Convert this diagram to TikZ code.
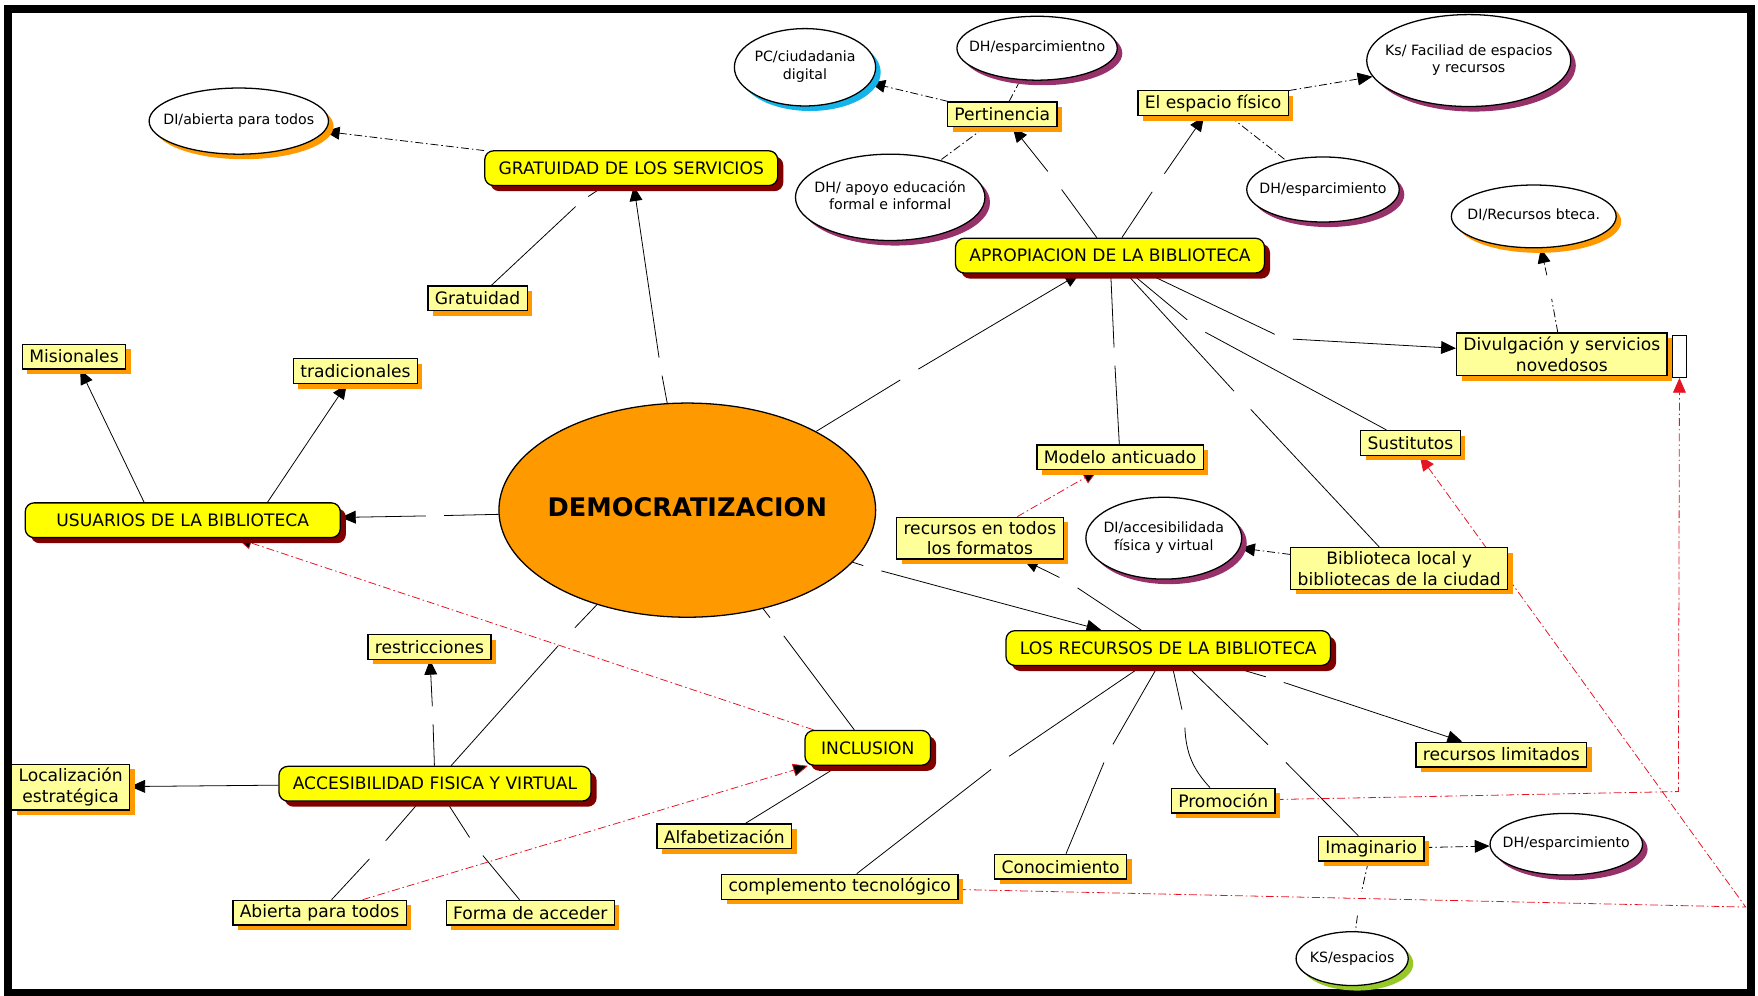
\documentclass[tikz,border=0pt]{standalone}
\usepackage{fontspec}
\setmainfont{DejaVu Sans}
\usetikzlibrary{shapes.geometric, arrows.meta, shadows, backgrounds}
\definecolor{conyel}{RGB}{255,255,0}
\definecolor{subyel}{RGB}{255,255,153}
\definecolor{shdred}{RGB}{128,0,0}
\definecolor{shdorg}{RGB}{255,153,0}
\definecolor{shdpur}{RGB}{150,50,105}
\definecolor{shdcya}{RGB}{20,180,235}
\definecolor{shdgrn}{RGB}{150,200,40}
\definecolor{lnkred}{RGB}{230,20,35}
\newcommand{\ovl}[1]{\makebox[0pt]{\begin{tabular}{@{}c@{}}#1\end{tabular}}}

\begin{document}
\begin{tikzpicture}[x=0.2mm, y=-0.2mm, line width=0.65pt,
    >={Triangle[length=7.5pt,width=6.5pt]},
    mainbox/.style={rectangle, rounded corners=4.5pt, draw=black, fill=conyel, inner xsep=7pt, inner ysep=2pt, minimum height=6.2mm, font=\fontsize{8.7}{10.5}\selectfont, drop shadow={shadow xshift=1mm, shadow yshift=-1mm, fill=shdred, opacity=1}},
    subbox/.style={rectangle, draw=black, fill=subyel, inner xsep=3.5pt, inner ysep=2pt, minimum height=4.4mm, align=center, font=\fontsize{8.7}{10.5}\selectfont, drop shadow={shadow xshift=0.9mm, shadow yshift=-0.9mm, fill=shdorg, opacity=1}},
    bubble/.style={ellipse, draw=black, fill=white, inner sep=0pt, font=\fontsize{7.2}{9}\selectfont, drop shadow={shadow xshift=0.9mm, shadow yshift=-0.9mm, fill=#1, opacity=1}},
    lk/.style={inner sep=0pt, minimum size=3mm},
    dlink/.style={dash pattern=on 4pt off 1.5pt on 0.8pt off 1.5pt},
    rlink/.style={draw=lnkred, dash pattern=on 4pt off 1.5pt on 0.8pt off 1.5pt}]
    \useasboundingbox (0,0) rectangle (1568,888);
    \draw[line width=1.4mm] (7,8) rectangle (1562,886);

    \node (DEM) [ellipse, draw=black, fill=shdorg, inner sep=0pt, minimum width=67.2mm, minimum height=38.2mm, font=\fontsize{13}{15}\selectfont\bfseries] at (613, 455) {\ovl{DEMOCRATIZACION}};
    \node (GRAT) [mainbox] at (563, 150) {GRATUIDAD DE LOS SERVICIOS};
    \node (APROP) [mainbox] at (990, 228) {APROPIACION DE LA BIBLIOTECA};
    \node (USU) [mainbox, minimum width=56.2mm] at (163, 464) {USUARIOS DE LA BIBLIOTECA};
    \node (REC) [mainbox] at (1042, 578) {LOS RECURSOS DE LA BIBLIOTECA};
    \node (INC) [mainbox, minimum width=22.4mm] at (774, 667) {INCLUSION};
    \node (ACC) [mainbox] at (388, 699) {ACCESIBILIDAD FISICA Y VIRTUAL};

    \node (Grat) [subbox] at (426, 266) {Gratuidad};
    \node (Mis) [subbox] at (66, 318) {Misionales};
    \node (Trad) [subbox] at (317, 331) {tradicionales};
    \node (Restr) [subbox] at (383, 577) {restricciones};
    \node (Loc) [subbox] at (63, 702) {Localización\\estratégica};
    \node (Abi) [subbox] at (285, 814) {Abierta para todos};
    \node (Forma) [subbox] at (473, 814) {Forma de acceder};
    \node (Alfa) [subbox] at (646, 746) {Alfabetización};
    \node (Compl) [subbox] at (749, 791) {complemento tecnológico};
    \node (Conoc) [subbox] at (946, 773) {Conocimiento};
    \node (Promo) [subbox] at (1091, 714) {Promoción};
    \node (Imag) [subbox] at (1223, 757) {Imaginario};
    \node (Limit) [subbox] at (1339, 673) {recursos limitados};
    \node (Sust) [subbox] at (1258, 395) {Sustitutos};
    \node (BibL) [subbox] at (1248, 507) {Biblioteca local y\\bibliotecas de la ciudad};
    \node (Form) [subbox] at (874, 480) {recursos en todos\\los formatos};
    \node (Model) [subbox] at (999, 408) {Modelo anticuado};
    \node (Pert) [subbox] at (894, 102) {Pertinencia};
    \node (Esp) [subbox] at (1082, 92) {El espacio físico};
    \node (Divul) [subbox] at (1393, 316) {Divulgación y servicios\\novedosos};
    \node (Nov) [draw=black, fill=white, inner sep=0pt, minimum width=2.4mm, minimum height=7.4mm] at (1498, 318) {};

    \node (DIab) [bubble=shdorg, minimum width=32mm, minimum height=11.8mm] at (213, 108) {\ovl{DI/abierta para todos}};
    \node (PCc) [bubble=shdcya, minimum width=25.2mm, minimum height=13.8mm] at (718, 60) {\ovl{PC/ciudadania\\digital}};
    \node (DHe1) [bubble=shdpur, minimum width=28.6mm, minimum height=11.4mm] at (925, 43) {\ovl{DH/esparcimientno}};
    \node (DHap) [bubble=shdpur, minimum width=33.8mm, minimum height=15.4mm] at (794, 176) {\ovl{DH/ apoyo educación\\formal e informal}};
    \node (Ksf) [bubble=shdpur, minimum width=36.4mm, minimum height=16.4mm] at (1310, 54) {\ovl{Ks/ Faciliad de espacios\\y recursos}};
    \node (DHe2) [bubble=shdpur, minimum width=27.2mm, minimum height=11.6mm] at (1180, 169) {\ovl{DH/esparcimiento}};
    \node (DIrec) [bubble=shdorg, minimum width=29.4mm, minimum height=11.2mm] at (1368, 193) {\ovl{DI/Recursos bteca.}};
    \node (DIacc) [bubble=shdpur, minimum width=27.8mm, minimum height=14.6mm] at (1038, 480) {\ovl{DI/accesibilidada\\física y virtual}};
    \node (DHe3) [bubble=shdpur, minimum width=27.2mm, minimum height=11mm] at (1397, 753) {\ovl{DH/esparcimiento}};
    \node (KSe) [bubble=shdgrn, minimum width=20mm, minimum height=9.6mm] at (1206, 855) {\ovl{KS/espacios}};

    \node (l1) [lk] at (589, 327) {};
    \node (l2) [lk] at (811, 334) {};
    \node (l3) [lk] at (388, 460) {};
    \node (l4) [lk] at (778, 507) {};
    \node (l5) [lk] at (693, 559) {};
    \node (l6) [lk] at (505, 568) {};
    \node (l7) [lk, minimum size=2mm] at (519, 179) {};
    \node (l8) [lk] at (386, 638) {};
    \node (l9) [lk] at (337, 758) {};
    \node (l10) [lk] at (424, 755) {};
    \node (l12) [lk] at (953, 519) {};
    \node (l13) [lk] at (1137, 606) {};
    \node (l14) [lk] at (1056, 641) {};
    \node (l15) [lk] at (1139, 672) {};
    \node (l16) [lk] at (988, 672) {};
    \node (l17) [lk] at (892, 680) {};
    \node (l18) [lk] at (941, 161) {};
    \node (l19) [lk] at (1033, 163) {};
    \node (l20) [lk] at (1145, 302) {};
    \node (l21) [lk] at (994, 318) {};
    \node (l22) [lk] at (1067, 292) {};
    \node (l23) [lk] at (1108, 357) {};
    \node (l24) [lk, minimum size=4mm] at (1382, 256) {};
    \node (l25) [lk, minimum size=4mm] at (1212, 806) {};
    \coordinate (c1) at (1497, 706);
    \coordinate (c2) at (1557, 809);

    \begin{pgfonlayer}{background}
    \draw (DEM) -- (l1);
    \draw (l1) edge[->] (GRAT);
    \draw (DEM) -- (l2);
    \draw (l2) edge[->] (APROP);
    \draw (DEM) -- (l3);
    \draw (l3) edge[->] (USU);
    \draw (DEM) -- (l4);
    \draw (l4) edge[->] (REC);
    \draw (DEM) -- (l5) (l5) -- (INC);
    \draw (DEM) -- (l6) (l6) -- (ACC);

    \draw (Grat) -- (l7) (l7) -- (GRAT);
    \draw (USU.155) edge[->] (Mis);
    \draw (USU.12) edge[->] (Trad);
    \draw (ACC) -- (l8);
    \draw (l8) edge[->] (Restr);
    \draw (ACC) edge[->] (Loc);
    \draw (ACC) -- (l9) (l9) -- (Abi);
    \draw (ACC) -- (l10) (l10) -- (Forma);
    \draw[shorten >=1.2mm] (Alfa) -- (INC);

    \draw (REC) -- (l12);
    \draw (l12) edge[->] (Form);
    \draw (REC) -- (l13);
    \draw (l13) edge[->] (Limit);
    \draw (REC) -- (l14) (l14) to[bend right=20] (Promo);
    \draw (REC) -- (l15) (l15) -- (Imag);
    \draw (REC) -- (l16) (l16) -- (Conoc);
    \draw (REC) -- (l17) (l17) -- (Compl);

    \draw (APROP) -- (l18);
    \draw (l18) edge[->] (Pert);
    \draw (APROP) -- (l19);
    \draw (l19) edge[->] (Esp);
    \draw (APROP) -- (l20);
    \draw (l20) edge[->] (Divul);
    \draw (APROP) -- (l21) (l21) -- (Model);
    \draw (APROP) -- (l22) (l22) -- (Sust);
    \draw (APROP) -- (l23) (l23) -- (BibL);

    \draw[dlink] (GRAT) edge[->] (DIab);
    \draw[dlink] (Pert) edge[->] (PCc);
    \draw[dlink] (Pert) -- (DHe1);
    \draw[dlink] (Pert) -- (DHap);
    \draw[dlink] (Esp) edge[->] (Ksf);
    \draw[dlink] (Esp) -- (DHe2);
    \draw[dlink] (Divul) -- (l24);
    \draw[dlink] (l24) edge[->] (DIrec);
    \draw[dlink] (BibL) edge[->] (DIacc);
    \draw[dlink] (Imag) edge[->] (DHe3);
    \draw[dlink] (Imag) -- (l25) (l25) -- (KSe);

    \draw[rlink] (INC) edge[->] (USU);
    \draw[rlink] (Abi) edge[->] (INC);
    \draw[rlink] (Form) edge[->] (Model);
    \draw[rlink, ->] (Promo) -- (c1) -- (Nov);
    \draw[rlink, ->] (Compl) -- (c2) -- (Sust);
    \end{pgfonlayer}
\end{tikzpicture}
\end{document}
